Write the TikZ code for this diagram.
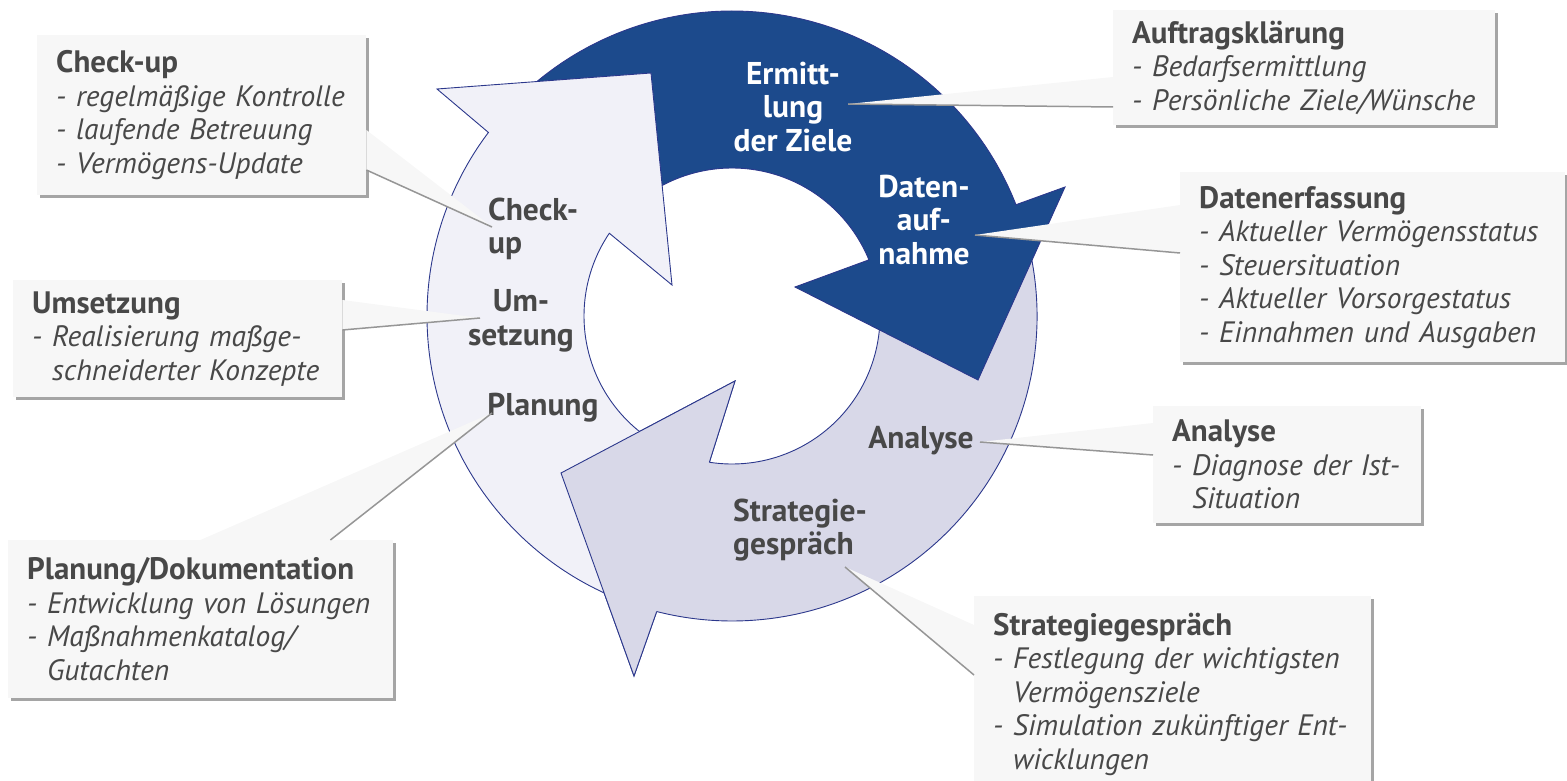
\documentclass[tikz,border=0pt]{standalone}
\usepackage{fontspec}
\setmainfont{PT Sans}
\usetikzlibrary{calc,shadows}

\definecolor{ringdark}{RGB}{28,74,140}
\definecolor{ringlight}{RGB}{241,241,248}
\definecolor{ringmid}{RGB}{216,216,232}
\definecolor{ringline}{RGB}{44,56,140}
\definecolor{textgray}{RGB}{72,72,72}
\definecolor{boxfill}{RGB}{247,247,247}
\definecolor{boxshadow}{RGB}{165,165,165}
\definecolor{pointerline}{RGB}{150,150,150}

\newcommand{\cyclefont}{\fontsize{29.5}{33.5}\selectfont}
\newcommand{\ind}{\hphantom{- }}
\newcommand{\headline}[1]{{\fontsize{31}{33.5}\selectfont\upshape\bfseries #1}}

\tikzset{
  callout/.style={anchor=north west, fill=boxfill, text=textgray, align=left,
    inner xsep=19pt, inner ysep=0pt, font=\cyclefont\itshape,
    drop shadow={shadow xshift=3pt, shadow yshift=-3pt, fill=boxshadow, opacity=1}},
  ringlabel/.style={text=textgray, font=\fontsize{31.5}{33.5}\selectfont\bfseries, inner sep=0pt, align=center},
  pointer/.style={fill=boxfill},
  pointeredge/.style={draw=pointerline, line width=1.5pt},
  ringpart/.style={draw=ringline, line width=0.9pt},
}

\begin{document}
\begin{tikzpicture}[x=1pt,y=1pt]
\useasboundingbox (0,0) rectangle (1567,-781);

% the three ring arrows, centre of the ring at (732,-316)
\begin{scope}[shift={(732,-316)}]
  \path[ringpart, fill=ringmid] (15:305) arc[start angle=15, end angle=-104.3, radius=305]
    -- (-98,-360) -- (-171,-157) -- (3,-65)
    -- (-98.8:148) arc[start angle=-98.8, end angle=0, radius=148] -- cycle;
  \path[ringpart, fill=ringdark] (135:305) arc[start angle=135, end angle=21.4, radius=305]
    -- (333,129) -- (246,-64) -- (63,29)
    -- (22.3:148) arc[start angle=22.3, end angle=132, radius=148] -- cycle;
  \path[ringpart, fill=ringlight] (250:305) arc[start angle=250, end angle=143, radius=305]
    -- (-295,227) -- (-81,243) -- (-60,31)
    -- (146:148) arc[start angle=146, end angle=245, radius=148] -- cycle;
  % head of the lower arrow lies over the tail of the left one
  \fill[ringmid] (-104.3:305) -- (-98,-360) -- (-171,-157) -- (3,-65) -- (-98.8:148) -- cycle;
  \draw[ringpart] (-104.3:305) -- (-98,-360) -- (-171,-157) -- (3,-65) -- (-98.8:148);
\end{scope}

\node[ringlabel, text=white] (lblziele) at (793,-107) {Ermitt-\\lung\\der Ziele};
\node[ringlabel, text=white] (lbldaten) at (924,-220) {Daten-\\auf-\\nahme};
\node[ringlabel, align=left, anchor=west] (lblcheck) at (488,-229) {Check-\\up};
\node[ringlabel] (lblumsetz) at (521,-321) {Um-\\setzung};
\node[ringlabel] (lblplan) at (543,-408) {Planung};
\node[ringlabel] (lblanalyse) at (921,-441) {Analyse};
\node[ringlabel, align=left, anchor=west] (lblstrat) at (733,-530) {Strategie-\\gespräch};

\coordinate (tipcheck) at (492,-227);
\coordinate (tipumsetz) at (480,-318);
\coordinate (tipplan) at (492,-413);
\coordinate (tipziele) at (848,-104);
\coordinate (tipdaten) at (975,-235);
\coordinate (tipanalyse) at (980,-442);
\coordinate (tipstrat) at (845,-567);

\node[callout, text width=291pt, minimum height=160pt] (boxcheck) at (37,-35)
  {\headline{Check-up}\\ - regelmäßige Kontrolle\\ - laufende Betreuung\\ - Vermögens-Update};
\node[callout, text width=291pt, minimum height=117pt] (boxumsetz) at (13,-280)
  {\headline{Umsetzung}\\ - Realisierung maßge-\\ \ind schneiderter Konzepte};
\node[callout, text width=347pt, minimum height=158pt] (boxplan) at (8,-540)
  {\headline{Planung/Dokumentation}\\ - Entwicklung von Lösungen\\ - Maßnahmenkatalog/\\ \ind Gutachten};
\node[callout, text width=344pt, minimum height=115pt] (boxauftrag) at (1113,-10)
  {\headline{Auftragsklärung}\\ - Bedarfsermittlung\\ - Persönliche Ziele/Wünsche};
\node[callout, text width=347pt, minimum height=190pt] (boxdaten) at (1180,-172)
  {\headline{Datenerfassung}\\ - Aktueller Vermögensstatus\\ - Steuersituation\\ - Aktueller Vorsorgestatus\\ - Einnahmen und Ausgaben};
\node[callout, text width=230pt, minimum height=117pt] (boxanalyse) at (1153,-406)
  {\headline{Analyse}\\ - Diagnose der Ist-\\ \ind Situation};
\node[callout, text width=359pt, minimum height=196pt] (boxstrat) at (974,-596)
  {\headline{Strategiegespräch}\\ - Festlegung der wichtigsten\\ \ind Vermögensziele\\ - Simulation zukünftiger Ent-\\ \ind wicklungen};

% pointers from the boxes into the ring
\fill[pointer] ([yshift=-95]boxcheck.north east) -- (tipcheck) -- ([yshift=-135]boxcheck.north east) -- cycle;
\draw[pointeredge] ([yshift=-135]boxcheck.north east) -- (tipcheck);
\fill[pointer] ([yshift=-20]boxumsetz.north east) -- (tipumsetz) -- ([yshift=-50]boxumsetz.north east) -- cycle;
\draw[pointeredge] ([yshift=-50]boxumsetz.north east) -- (tipumsetz);
\fill[pointer] ([xshift=-193]boxplan.north east) -- (tipplan) -- ([xshift=-63]boxplan.north east) -- cycle;
\draw[pointeredge] ([xshift=-63]boxplan.north east) -- (tipplan);
\fill[pointer] ([yshift=-67]boxauftrag.north west) -- (tipziele) -- ([yshift=-97]boxauftrag.north west) -- cycle;
\draw[pointeredge] ([yshift=-97]boxauftrag.north west) -- (tipziele);
\fill[pointer] ([yshift=-33]boxdaten.north west) -- (tipdaten) -- ([yshift=-81]boxdaten.north west) -- cycle;
\draw[pointeredge] ([yshift=-81]boxdaten.north west) -- (tipdaten);
\fill[pointer] ([yshift=-17]boxanalyse.north west) -- (tipanalyse) -- ([yshift=-49]boxanalyse.north west) -- cycle;
\draw[pointeredge] ([yshift=-49]boxanalyse.north west) -- (tipanalyse);
\fill[pointer] ([yshift=-29]boxstrat.north west) -- (tipstrat) -- ([yshift=-79]boxstrat.north west) -- cycle;
\draw[pointeredge] ([yshift=-79]boxstrat.north west) -- (tipstrat);
\end{tikzpicture}
\end{document}
